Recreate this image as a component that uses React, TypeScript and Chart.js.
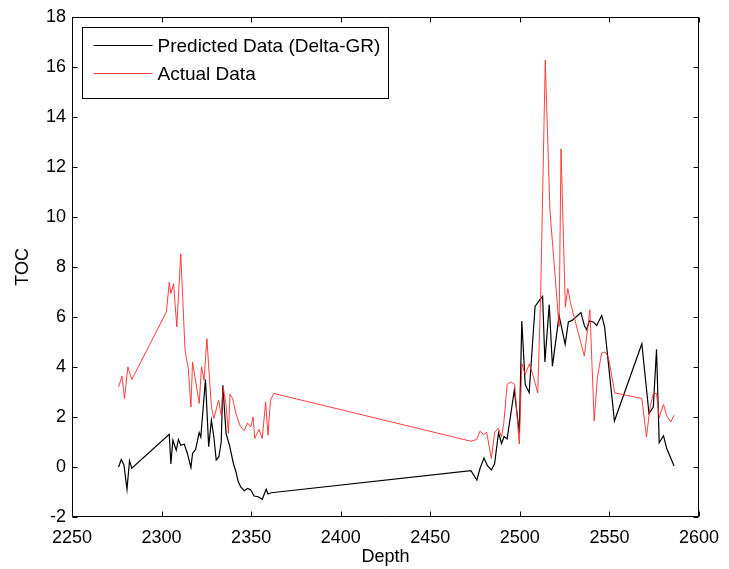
import React, { useEffect, useRef } from 'react';
import { Chart, registerables } from 'chart.js';

Chart.register(...registerables);

// ---- data ----
const predictedDepth = [
  2276.0, 2277.5, 2279.0, 2280.7, 2282.1, 2283.4, 2304.3, 2305.2, 2306.3, 2308.2,
  2309.4, 2310.7, 2312.7, 2314.4, 2316.4, 2317.3, 2319.0, 2321.0, 2321.9, 2324.5,
  2326.3, 2327.8, 2329.2, 2330.5, 2332.0, 2333.3, 2334.2, 2336.0, 2337.9, 2340.1,
  2341.5, 2342.8, 2344.3, 2346.1, 2348.0, 2349.8, 2351.6, 2354.0, 2356.2, 2358.4,
  2359.4, 2361.2, 2472.7, 2476.0, 2477.8, 2480.0, 2481.9, 2484.1, 2485.9, 2488.1,
  2489.8, 2491.2, 2492.9, 2496.9, 2499.7, 2501.1, 2503.0, 2505.2, 2508.5, 2510.9,
  2512.7, 2514.0, 2516.4, 2518.2, 2521.9, 2525.3, 2527.1, 2529.2, 2534.1, 2536.0,
  2537.3, 2538.8, 2541.0, 2542.9, 2545.7, 2547.3, 2552.8, 2568.1, 2572.1, 2574.5,
  2576.3, 2577.8, 2580.2, 2582.0, 2586.1,
];
const predictedTOC = [
  0.0, 0.3, 0.08, -0.89, 0.25, -0.05, 1.31, 0.12, 1.07, 0.67,
  1.1, 0.87, 0.91, 0.54, -0.02, 0.54, 0.7, 1.37, 1.2, 3.5,
  0.81, 1.87, 1.2, 0.28, 0.41, 1.0, 3.27, 1.34, 0.87, 0.14,
  -0.19, -0.59, -0.81, -0.95, -0.86, -0.92, -1.16, -1.19, -1.29, -0.89,
  -1.08, -1.03, -0.15, -0.52, -0.05, 0.36, 0.05, -0.12, 0.13, 1.37,
  0.94, 1.22, 1.12, 3.07, 1.37, 5.84, 3.3, 2.97, 6.42, 6.66,
  6.82, 4.2, 6.49, 4.03, 6.05, 4.9, 5.8, 5.86, 6.17, 5.66,
  5.49, 5.84, 5.8, 5.66, 6.06, 5.6, 1.84, 4.93, 2.14, 2.4,
  4.71, 0.97, 1.25, 0.74, 0.04,
];
const actualDepth = [
  2276.0, 2277.9, 2279.3, 2281.2, 2283.4, 2302.7, 2304.3, 2305.2, 2306.7, 2308.5,
  2310.7, 2313.1, 2314.9, 2316.4, 2317.3, 2321.0, 2322.3, 2323.7, 2325.3, 2327.8,
  2329.2, 2331.8, 2333.3, 2334.4, 2335.9, 2337.3, 2338.2, 2339.7, 2341.5, 2343.9,
  2346.1, 2348.0, 2349.8, 2351.1, 2352.0, 2354.4, 2356.2, 2358.1, 2359.4, 2360.8,
  2362.7, 2472.7, 2476.0, 2477.7, 2479.8, 2481.5, 2484.1, 2485.9, 2488.0, 2489.8,
  2491.0, 2492.9, 2495.1, 2497.1, 2499.7, 2501.1, 2503.0, 2505.3, 2507.6, 2510.0,
  2511.6, 2514.2, 2516.8, 2521.9, 2523.0, 2525.4, 2526.8, 2528.3, 2536.0, 2539.1,
  2541.5, 2543.3, 2545.7, 2547.5, 2549.4, 2553.0, 2568.1, 2570.7, 2572.7, 2574.5,
  2576.3, 2577.8, 2580.2, 2582.0, 2584.2, 2586.1,
];
const actualTOC = [
  3.2, 3.63, 2.74, 4.0, 3.5, 6.2, 7.39, 6.93, 7.33, 5.6,
  8.53, 4.67, 3.93, 2.4, 4.2, 2.54, 4.0, 3.47, 5.13, 2.4,
  1.94, 2.67, 2.07, 3.2, 2.54, 1.34, 2.91, 2.74, 2.14, 1.63,
  1.45, 1.76, 1.6, 2.0, 1.14, 1.5, 1.14, 2.6, 1.27, 2.67,
  2.94, 1.03, 1.1, 1.43, 1.3, 1.38, 0.34, 1.37, 1.55, 1.2,
  1.74, 3.3, 3.4, 3.3, 0.92, 4.14, 3.7, 4.12, 3.6, 2.96,
  6.79, 16.27, 10.26, 5.62, 12.72, 6.4, 7.13, 6.55, 4.43, 6.29,
  1.84, 3.6, 4.56, 4.6, 4.4, 2.96, 2.74, 1.2, 2.4, 2.94,
  2.94, 1.98, 2.5, 2.04, 1.8, 2.07,
];
const xTicks = [2250, 2300, 2350, 2400, 2450, 2500, 2550, 2600];
const yTicks = [-2, 0, 2, 4, 6, 8, 10, 12, 14, 16, 18];
const seriesLabels = ['Predicted Data (Delta-GR)', 'Actual Data'];
const xTitle = 'Depth';
const yTitle = 'TOC';

const FONT = '"Liberation Sans", Arial, Helvetica, sans-serif';

const boxPlugin = {
  id: 'matlabBox',
  afterDraw(chart: any) {
    const { ctx, chartArea } = chart;
    const { left, right, top, bottom } = chartArea;
    const xs = chart.scales.x;
    const ys = chart.scales.y;
    const L = Math.round(left) + 0.5;
    const R = Math.round(right) - 0.5;
    const T = Math.round(top) + 0.5;
    const B = Math.round(bottom) - 0.5;
    const tl = 5;
    ctx.save();
    ctx.strokeStyle = '#000';
    ctx.lineWidth = 1;
    ctx.beginPath();
    ctx.rect(L, T, R - L, B - T);
    xTicks.forEach((v) => {
      const p = Math.round(xs.getPixelForValue(v)) + 0.5;
      ctx.moveTo(p, B);
      ctx.lineTo(p, B - tl);
      ctx.moveTo(p, T);
      ctx.lineTo(p, T + tl);
    });
    yTicks.forEach((v) => {
      const p = Math.round(ys.getPixelForValue(v)) + 0.5;
      ctx.moveTo(L, p);
      ctx.lineTo(L + tl, p);
      ctx.moveTo(R, p);
      ctx.lineTo(R - tl, p);
    });
    ctx.stroke();

    // legend
    const bx = L + 10;
    const by = T + 10;
    const bw = 306;
    const bh = 71;
    ctx.fillStyle = '#fff';
    ctx.fillRect(bx, by, bw, bh);
    ctx.strokeStyle = '#000';
    ctx.lineWidth = 1;
    ctx.strokeRect(bx, by, bw, bh);
    ctx.font = `19px ${FONT}`;
    ctx.textAlign = 'left';
    ctx.textBaseline = 'middle';
    const rows = [by + 17.5, by + 45];
    chart.data.datasets.forEach((ds: any, i: number) => {
      const y = Math.round(rows[i]) + 0.5;
      ctx.strokeStyle = ds.borderColor;
      ctx.lineWidth = ds.borderWidth;
      ctx.beginPath();
      ctx.moveTo(bx + 11, y);
      ctx.lineTo(bx + 70, y);
      ctx.stroke();
      ctx.fillStyle = '#000';
      ctx.fillText(ds.label, bx + 75, y + 1.5);
    });
    ctx.restore();
  },
};

export default function App() {
  const ref = useRef<HTMLCanvasElement | null>(null);

  useEffect(() => {
    if (!ref.current) return;
    const chart = new Chart(ref.current, {
      type: 'line',
      data: {
        datasets: [
          {
            label: seriesLabels[0],
            data: predictedDepth.map((d, i) => ({ x: d, y: predictedTOC[i] })),
            borderColor: '#000000',
            borderWidth: 1.2,
            pointRadius: 0,
            tension: 0,
            fill: false,
            order: 1,
          },
          {
            label: seriesLabels[1],
            data: actualDepth.map((d, i) => ({ x: d, y: actualTOC[i] })),
            borderColor: '#ff2a2a',
            borderWidth: 0.9,
            pointRadius: 0,
            tension: 0,
            fill: false,
            order: 0,
          },
        ],
      },
      options: {
        responsive: false,
        animation: false,
        devicePixelRatio: 1,
        layout: { padding: { left: 0, right: 21, top: 16, bottom: 0 } },
        plugins: {
          legend: { display: false },
          tooltip: { enabled: false },
        },
        scales: {
          x: {
            type: 'linear',
            min: 2250,
            max: 2600,
            afterFit: (s: any) => {
              s.height = 52;
            },
            afterBuildTicks: (s: any) => {
              s.ticks = xTicks.map((v) => ({ value: v }));
            },
            grid: { display: false, drawTicks: false },
            border: { display: false },
            ticks: {
              color: '#000',
              font: { family: FONT, size: 18 },
              padding: 10,
              maxRotation: 0,
              autoSkip: false,
              callback: (v: any) => String(v),
            },
            title: {
              display: true,
              text: xTitle,
              color: '#000',
              font: { family: FONT, size: 18 },
              padding: { top: 0, bottom: 1 },
            },
          },
          y: {
            type: 'linear',
            min: -2,
            max: 18,
            afterFit: (s: any) => {
              s.width = 72;
            },
            afterBuildTicks: (s: any) => {
              s.ticks = yTicks.map((v) => ({ value: v }));
            },
            grid: { display: false, drawTicks: false },
            border: { display: false },
            ticks: {
              color: '#000',
              font: { family: FONT, size: 18 },
              padding: 6,
              autoSkip: false,
              callback: (v: any) => String(v),
            },
            title: {
              display: true,
              text: yTitle,
              color: '#000',
              font: { family: FONT, size: 18 },
              padding: { top: 12, bottom: 0 },
            },
          },
        },
      },
      plugins: [boxPlugin],
    });
    return () => chart.destroy();
  }, []);

  return (
    <div style={{ position: 'absolute', left: 0, top: 0, width: 729, height: 569, background: '#fff' }}>
      <canvas ref={ref} width={729} height={569} style={{ display: 'block', width: 729, height: 569 }} />
    </div>
  );
}
